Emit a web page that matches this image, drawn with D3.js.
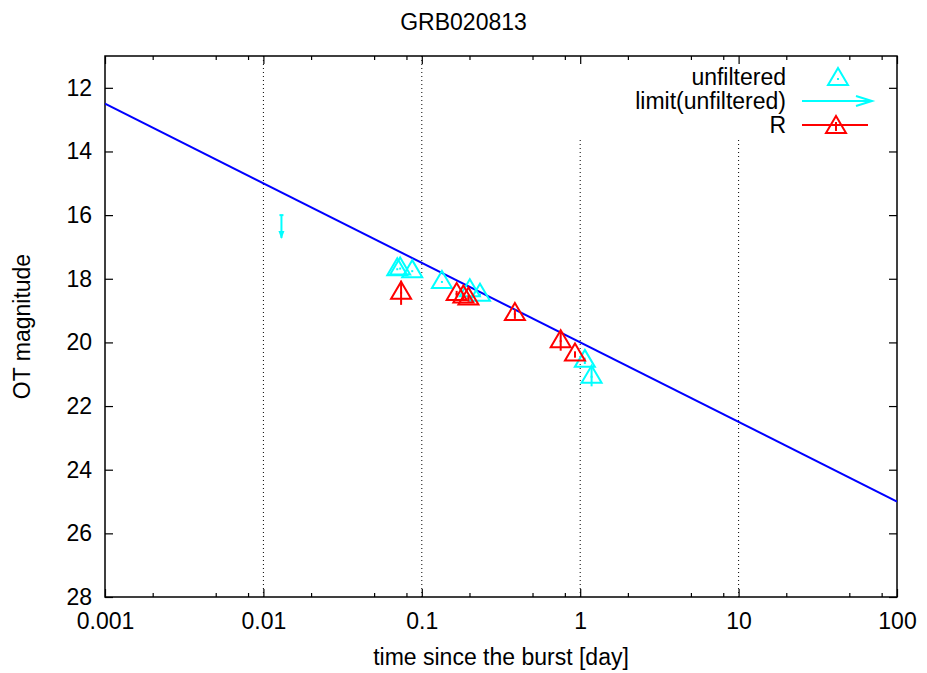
<!DOCTYPE html>
<html>
<head>
<meta charset="utf-8">
<script src="https://cdn.jsdelivr.net/npm/d3@7"></script>
<style>
  html, body { margin: 0; padding: 0; background: #fff; }
  text { font-family: "Liberation Sans", Arial, sans-serif; }
</style>
</head>
<body>
<script>
// Unfiltered photometry: time since burst [day], magnitude, error
const unfilteredT   = [0.070, 0.073, 0.087, 0.134, 0.201, 0.233, 1.07, 1.18];
const unfilteredMag = [17.70, 17.68, 17.76, 18.10, 18.36, 18.50, 20.58, 21.08];
const unfilteredErr = [0.00, 0.00, 0.00, 0.00, 0.00, 0.00, 0.10, 0.30];

// Upper limit (unfiltered)
const limitT   = [0.0130];
const limitMag = [16.0];

// R-band photometry
const rT   = [0.074, 0.166, 0.183, 0.197, 0.387, 0.753, 0.927];
const rMag = [18.44, 18.48, 18.56, 18.62, 19.11, 19.96, 20.38];
const rErr = [0.38, 0.10, 0.10, 0.10, 0.15, 0.30, 0.10];

// Power-law decay fit endpoints
const fitT   = [0.001, 100];
const fitMag = [12.5, 25];

// Axis ticks
const xMajor = [0.001, 0.01, 0.1, 1, 10, 100];
const xMajorLabels = ["0.001", "0.01", "0.1", "1", "10", "100"];
const xMinor = [0.002, 0.005, 0.008, 0.02, 0.05, 0.08, 0.2, 0.5, 0.8, 2, 5, 8, 20, 50, 80];
const yMajor = [12, 14, 16, 18, 20, 22, 24, 26, 28];
const xGrid = [0.01, 0.1, 1, 10];

const W = 927, H = 673;
const L = 105, R = 897, T = 56, B = 597;

const svg = d3.select("body").append("svg")
  .attr("width", W).attr("height", H)
  .style("display", "block");
svg.append("rect").attr("width", W).attr("height", H).attr("fill", "#fff");

const x = d3.scaleLog().domain([0.001, 100]).range([L, R]);
const y = d3.scaleLinear().domain([11, 28]).range([T, B]);

const FS = 23;

// Dotted vertical grid; the upper-right part is kept clear for the key
const keyBottom = 140;
svg.append("g").selectAll("line").data(xGrid).join("line")
  .attr("x1", d => x(d)).attr("x2", d => x(d))
  .attr("y1", d => d >= 1 ? keyBottom : T)
  .attr("y2", B)
  .attr("stroke", "#000").attr("stroke-width", 1)
  .attr("stroke-dasharray", "1,3");

// Axes with inward ticks
function styleAxis(g) {
  g.select(".domain").remove();
  g.selectAll(".tick line").attr("stroke", "#000").attr("stroke-width", 1.2);
  g.selectAll("text").attr("font-size", FS).attr("fill", "#000")
    .attr("font-family", "Liberation Sans, Arial, sans-serif");
}

svg.append("g").attr("transform", `translate(0,${B})`)
  .call(d3.axisBottom(x).tickValues(xMajor).tickSize(-8).tickPadding(16)
    .tickFormat((d, i) => xMajorLabels[i]))
  .call(styleAxis);
svg.append("g").attr("transform", `translate(0,${B})`)
  .call(d3.axisBottom(x).tickValues(xMinor).tickSize(-4).tickFormat(""))
  .call(styleAxis);
svg.append("g").attr("transform", `translate(0,${T})`)
  .call(d3.axisTop(x).tickValues(xMajor).tickSize(-8).tickFormat(""))
  .call(styleAxis);
svg.append("g").attr("transform", `translate(0,${T})`)
  .call(d3.axisTop(x).tickValues(xMinor).tickSize(-4).tickFormat(""))
  .call(styleAxis);
svg.append("g").attr("transform", `translate(${L},0)`)
  .call(d3.axisLeft(y).tickValues(yMajor).tickSize(-8).tickPadding(13))
  .call(styleAxis);
svg.append("g").attr("transform", `translate(${R},0)`)
  .call(d3.axisRight(y).tickValues(yMajor).tickSize(-8).tickFormat(""))
  .call(styleAxis);

// Plot frame
svg.append("rect").attr("x", L).attr("y", T).attr("width", R - L).attr("height", B - T)
  .attr("fill", "none").attr("stroke", "#000").attr("stroke-width", 1.5);

// Clip for data marks
svg.append("clipPath").attr("id", "plotclip").append("rect")
  .attr("x", L).attr("y", T).attr("width", R - L).attr("height", B - T);
const plot = svg.append("g").attr("clip-path", "url(#plotclip)");

// Fit line
const fitData = fitT.map((t, i) => ({ t, m: fitMag[i] }));
plot.append("path").datum(fitData)
  .attr("d", d3.line().x(d => x(d.t)).y(d => y(d.m)))
  .attr("fill", "none").attr("stroke", "#0000ff").attr("stroke-width", 2);

// Open triangle marker centred on the data point
const tri = "M0,-11 L10,6 L-10,6 Z";

function drawSeries(ts, ms, es, color, withDot) {
  const data = ts.map((t, i) => ({ t, m: ms[i], e: es[i] }));
  const g = plot.append("g");
  g.selectAll("line.err").data(data.filter(d => d.e > 0)).join("line")
    .attr("class", "err")
    .attr("x1", d => x(d.t)).attr("x2", d => x(d.t))
    .attr("y1", d => y(d.m - d.e)).attr("y2", d => y(d.m + d.e))
    .attr("stroke", color).attr("stroke-width", 2);
  g.selectAll("path.pt").data(data).join("path")
    .attr("class", "pt")
    .attr("transform", d => `translate(${x(d.t)},${y(d.m)})`)
    .attr("d", tri).attr("fill", "none")
    .attr("stroke", color).attr("stroke-width", 2).attr("stroke-linejoin", "miter");
  if (withDot) {
    g.selectAll("rect.dot").data(data).join("rect")
      .attr("class", "dot")
      .attr("x", d => x(d.t) - 1).attr("y", d => y(d.m) - 1)
      .attr("width", 2).attr("height", 2).attr("fill", color);
  }
}

drawSeries(unfilteredT, unfilteredMag, unfilteredErr, "#00ffff", true);
drawSeries(rT, rMag, rErr, "#ff0000", true);

// Limit arrow pointing to fainter magnitudes
const limData = limitT.map((t, i) => ({ t, m: limitMag[i] }));
const lg = plot.append("g");
lg.selectAll("line.shaft").data(limData).join("line")
  .attr("x1", d => x(d.t)).attr("x2", d => x(d.t))
  .attr("y1", d => y(d.m)).attr("y2", d => y(d.m + 0.72))
  .attr("stroke", "#00ffff").attr("stroke-width", 2);
lg.selectAll("line.cap").data(limData).join("line")
  .attr("x1", d => x(d.t) - 2).attr("x2", d => x(d.t) + 2)
  .attr("y1", d => y(d.m)).attr("y2", d => y(d.m))
  .attr("stroke", "#00ffff").attr("stroke-width", 2);
lg.selectAll("path.head").data(limData).join("path")
  .attr("transform", d => `translate(${x(d.t)},${y(d.m + 0.75)})`)
  .attr("d", "M0,0 L-3,-8 L3,-8 Z").attr("fill", "#00ffff");

// Key
const key = svg.append("g");
const keyTextX = 786, keyX1 = 802, keyX2 = 870;
const rows = [
  { label: "unfiltered", y: 77 },
  { label: "limit(unfiltered)", y: 101 },
  { label: "R", y: 125 }
];
key.selectAll("text").data(rows).join("text")
  .attr("x", keyTextX).attr("y", d => d.y).attr("dy", "0.35em")
  .attr("text-anchor", "end").attr("font-size", FS).attr("fill", "#000")
  .text(d => d.label);

const kxm = (keyX1 + keyX2) / 2 + 2;
key.append("path").attr("transform", `translate(${kxm},${rows[0].y + 2})`)
  .attr("d", tri).attr("fill", "none").attr("stroke", "#00ffff").attr("stroke-width", 2);
key.append("rect").attr("x", kxm - 1).attr("y", rows[0].y + 1).attr("width", 2).attr("height", 2)
  .attr("fill", "#00ffff");

key.append("line").attr("x1", keyX1).attr("x2", keyX2 + 1)
  .attr("y1", rows[1].y).attr("y2", rows[1].y)
  .attr("stroke", "#00ffff").attr("stroke-width", 2);
key.append("path")
  .attr("d", `M${keyX2 - 14},${rows[1].y - 5} L${keyX2 + 2},${rows[1].y} L${keyX2 - 14},${rows[1].y + 5}`)
  .attr("fill", "none").attr("stroke", "#00ffff").attr("stroke-width", 2);

key.append("line").attr("x1", keyX1).attr("x2", keyX2 - 2)
  .attr("y1", rows[2].y).attr("y2", rows[2].y)
  .attr("stroke", "#ff0000").attr("stroke-width", 2);
key.append("path").attr("transform", `translate(${kxm - 2},${rows[2].y + 2})`)
  .attr("d", tri).attr("fill", "none").attr("stroke", "#ff0000").attr("stroke-width", 2);
key.append("line").attr("x1", kxm - 2).attr("x2", kxm - 2)
  .attr("y1", rows[2].y - 3).attr("y2", rows[2].y + 6)
  .attr("stroke", "#ff0000").attr("stroke-width", 2);

// Title and axis labels
svg.append("text").attr("x", W / 2).attr("y", 30).attr("text-anchor", "middle")
  .attr("font-size", FS).text("GRB020813");
svg.append("text").attr("x", (L + R) / 2).attr("y", 665).attr("text-anchor", "middle")
  .attr("font-size", FS).text("time since the burst [day]");
svg.append("text").attr("transform", `translate(30,${(T + B) / 2}) rotate(-90)`)
  .attr("text-anchor", "middle").attr("font-size", FS).text("OT magnitude");
</script>
</body>
</html>
